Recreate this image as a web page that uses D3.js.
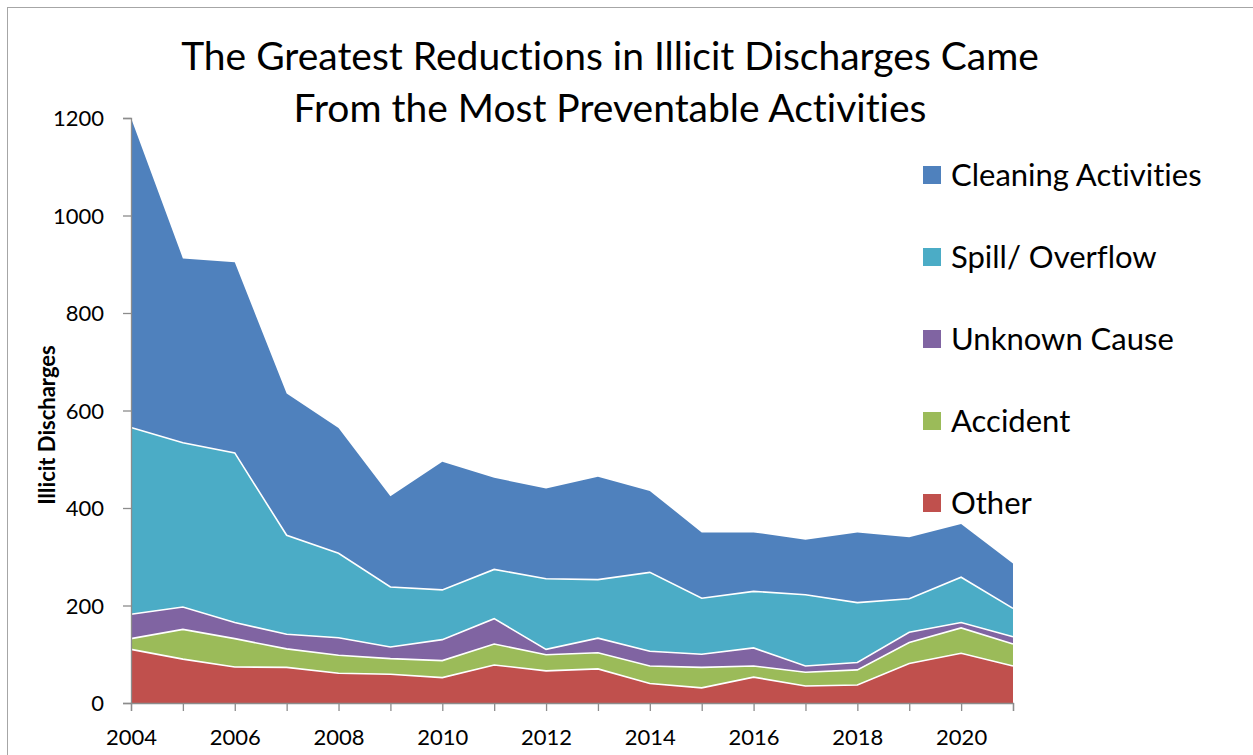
<!DOCTYPE html>
<html>
<head>
<meta charset="utf-8">
<script src="https://cdn.jsdelivr.net/npm/d3@7"></script>
<style>
  html, body { margin: 0; padding: 0; background: #fff; }
  svg { display: block; font-family: Lato, "Open Sans", sans-serif; font-variant-ligatures: none; font-feature-settings: "liga" 0, "clig" 0; }
</style>
</head>
<body>
<svg id="chart" width="1253" height="755"></svg>
<script>
const years = [2004,2005,2006,2007,2008,2009,2010,2011,2012,2013,2014,2015,2016,2017,2018,2019,2020,2021];
const other      = [110, 90, 74, 73, 61, 59, 52, 78, 66, 70, 40, 31, 53, 35, 37, 81,102, 76];
const accident   = [ 22, 61, 58, 38, 37, 32, 35, 43, 33, 33, 36, 42, 23, 28, 31, 43, 52, 45];
const unknown    = [ 50, 46, 33, 30, 36, 24, 43, 52, 11, 30, 30, 27, 37, 13, 15, 21, 11, 15];
const spill      = [383,337,348,203,173,123,102,101,145,120,162,115,116,146,123, 69, 93, 58];
const cleaning   = [635,378,391,291,257,186,263,188,185,211,167,135,121,113,144,126,109, 92];
const seriesNames = ["Other","Accident","Unknown Cause","Spill/ Overflow","Cleaning Activities"];
const seriesColors = ["#C0504D","#9BBB59","#8064A2","#4BACC6","#4F81BD"];
const yTicks = [0,200,400,600,800,1000,1200];
const xLabelYears = [2004,2006,2008,2010,2012,2014,2016,2018,2020];
const titleLines = ["The Greatest Reductions in Illicit Discharges Came","From the Most Preventable Activities"];
const yAxisTitle = "Illicit Discharges";

const svg = d3.select("#chart");
// outer frame
svg.append("rect").attr("x",7.5).attr("y",7.5).attr("width",1260).attr("height",760)
  .attr("fill","none").attr("stroke","#a6a6a6").attr("stroke-width",1);

const x = d3.scaleLinear().domain([2004,2021]).range([131,1013]);
const y = d3.scaleLinear().domain([0,1200]).range([703,118]);

const table = years.map((yr,i)=>({year:yr, "Other":other[i], "Accident":accident[i], "Unknown Cause":unknown[i], "Spill/ Overflow":spill[i], "Cleaning Activities":cleaning[i]}));
const stack = d3.stack().keys(seriesNames)(table);

const area = d3.area().x(d=>x(d.data.year)).y0(d=>y(d[0])).y1(d=>y(d[1]));
const topLine = d3.line().x(d=>x(d.data.year)).y(d=>y(d[1]));

svg.append("g").selectAll("path").data(stack).join("path")
  .attr("d",area).attr("fill",(d,i)=>seriesColors[i]);
svg.append("g").selectAll("path").data(stack.slice(0,4)).join("path")
  .attr("d",topLine).attr("fill","none").attr("stroke","#fff").attr("stroke-width",1.6);

// axes
const axisColor = "#8c8c8c";
const yAxis = svg.append("g").attr("transform","translate(131,0)")
  .call(d3.axisLeft(y).tickValues(yTicks).tickSize(8).tickPadding(19).tickFormat(d3.format("d")));
const xAxis = svg.append("g").attr("transform","translate(0,703)")
  .call(d3.axisBottom(x).tickValues(years).tickSize(8).tickPadding(5)
    .tickFormat(d=>xLabelYears.includes(d)?String(d):""));
[yAxis,xAxis].forEach(g=>{
  g.select(".domain").attr("stroke",axisColor).attr("stroke-width",1.3);
  g.selectAll(".tick line").attr("stroke",axisColor).attr("stroke-width",1.3);
  g.selectAll("text").attr("fill","#000").attr("font-size",22).attr("font-family","Lato, sans-serif");
});
yAxis.selectAll("text").attr("dy","0.35em");
xAxis.selectAll("text").attr("dy",null).attr("y",42);

// title
svg.append("g").selectAll("text").data(titleLines).join("text")
  .attr("x",610).attr("y",(d,i)=>70+i*51.7).attr("text-anchor","middle")
  .attr("font-size",39).attr("fill","#000").text(d=>d);

// y axis title
svg.append("text").attr("transform","translate(55,425) rotate(-90)")
  .attr("text-anchor","middle").attr("font-size",22).attr("font-weight","bold").attr("fill","#000")
  .text(yAxisTitle);

// legend (top to bottom: reverse order)
const legendItems = seriesNames.map((n,i)=>({name:n,color:seriesColors[i]})).reverse();
const lg = svg.append("g").selectAll("g").data(legendItems).join("g")
  .attr("transform",(d,i)=>`translate(923,${175+i*82})`);
lg.append("rect").attr("x",0).attr("y",-9).attr("width",18).attr("height",18).attr("fill",d=>d.color);
lg.append("text").attr("x",28).attr("y",0).attr("dy","0.36em").attr("font-size",31).attr("fill","#000").text(d=>d.name);
</script>
</body>
</html>
